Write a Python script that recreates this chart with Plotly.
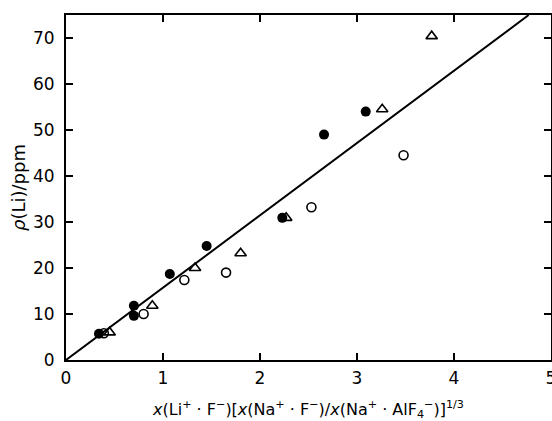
import plotly.graph_objects as go

# Filled circles
filled_x = [0.34, 0.70, 0.70, 1.07, 1.45, 2.23, 2.66, 3.09]
filled_y = [5.7, 11.8, 9.6, 18.7, 24.8, 30.9, 49.0, 54.0]

# Open circles
open_x = [0.39, 0.80, 1.22, 1.65, 2.53, 3.48]
open_y = [5.8, 10.0, 17.4, 19.0, 33.2, 44.5]

# Open triangles
tri_x = [0.45, 0.89, 1.33, 1.80, 2.27, 3.26, 3.77]
tri_y = [6.0, 11.8, 20.0, 23.2, 30.9, 54.5, 70.4]

# Fitted straight line (end points)
fit_x = [0.0, 4.77]
fit_y = [0.0, 75.0]

x_ticks = [0, 1, 2, 3, 4, 5]
y_ticks = [0, 10, 20, 30, 40, 50, 60, 70]

FONT = "DejaVu Sans"

fig = go.Figure()
fig.add_trace(go.Scatter(x=fit_x, y=fit_y, mode="lines",
                         line=dict(color="black", width=2), showlegend=False))
fig.add_trace(go.Scatter(x=filled_x, y=filled_y, mode="markers",
                         marker=dict(symbol="circle", size=10, color="black"),
                         showlegend=False))
fig.add_trace(go.Scatter(x=open_x, y=open_y, mode="markers",
                         marker=dict(symbol="circle-open", size=9, color="black",
                                     line=dict(width=1.6, color="black")),
                         showlegend=False))
fig.add_trace(go.Scatter(x=tri_x, y=tri_y, mode="markers",
                         marker=dict(symbol="triangle-up-open", size=10, color="black",
                                     line=dict(width=1.6, color="black")),
                         showlegend=False))

axis_common = dict(showline=True, linecolor="black", linewidth=2, mirror="ticks",
                   ticks="inside", ticklen=7, tickwidth=1.5, tickcolor="black",
                   showgrid=False, zeroline=False, automargin=False,
                   ticklabeloverflow="allow",
                   tickfont=dict(family=FONT, size=17, color="black"))

fig.update_xaxes(range=[0, 5], tickvals=x_ticks, ticktext=[str(v) for v in x_ticks],
                 ticklabelstandoff=2,
                 title=dict(text="<i>x</i>(Li<sup>+</sup> · F<sup>−</sup>)[<i>x</i>(Na<sup>+</sup> · F<sup>−</sup>)/<i>x</i>(Na<sup>+</sup> · AlF<sub>4</sub><sup>−</sup>)]<sup>1/3</sup>",
                            font=dict(family=FONT, size=16, color="black"), standoff=20),
                 **axis_common)
fig.update_yaxes(range=[0, 75], tickvals=y_ticks, ticktext=[str(v) for v in y_ticks],
                 ticklabelstandoff=6,
                 title=dict(text="<i>ρ</i>(Li)/ppm",
                            font=dict(family=FONT, size=18, color="black"), standoff=3),
                 **axis_common)

fig.update_layout(width=552, height=421,
                  margin=dict(l=66, r=1, t=15, b=61),
                  plot_bgcolor="white", paper_bgcolor="white")

fig.write_html("out.html",
               config={"displayModeBar": False},
               post_script="document.body.style.margin='0';document.body.style.overflow='hidden';")
